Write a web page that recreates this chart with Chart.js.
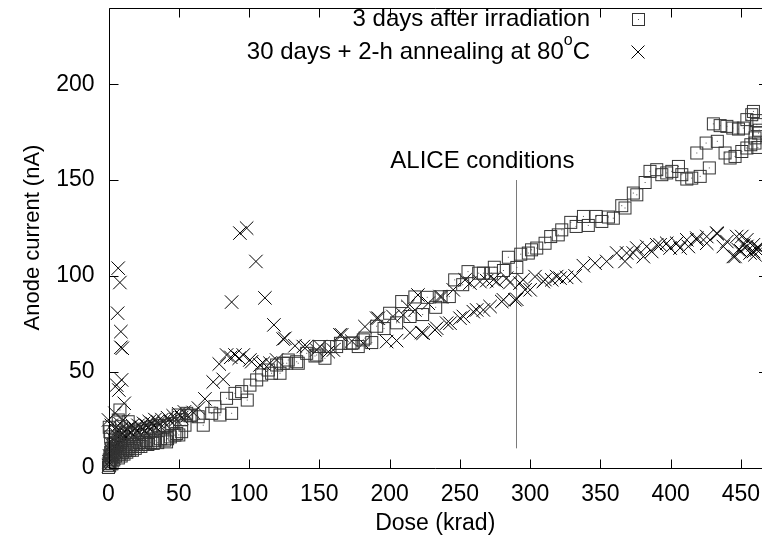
<!DOCTYPE html>
<html>
<head>
<meta charset="utf-8">
<script src="https://cdn.jsdelivr.net/npm/chart.js@4.4.1/dist/chart.umd.min.js"></script>
<style>
  html, body { margin: 0; padding: 0; background: #fff; }
  canvas { display: block; }
</style>
</head>
<body>
<canvas id="anodeChart" width="762" height="540"></canvas>
<script>
// [dose (krad), anode current (nA)]
const afterIrradiation = [
  [0,0],[0.3,2],[0.5,4],[0.8,1],[1,6],[1.2,3],[1.5,8],[2,5],[2.2,10],[2.5,2],[3,7],[3.3,12],
  [3.7,4],[4,9],[4.5,14],[5,6],[5.5,11],[6,8],[6.5,13],[7,5],[7.5,10],[8,7],[8.5,12],[9,6],
  [9.5,14],[10,8],
  [0.5,21],[1,18.7],[1.5,16],[6.9,24.8],[8.1,30],[9.3,21.3],[14,23.9],
  [11,7],[12,9],[13,8],[14,10],[15,9],[16,11],[17,9],[18,12],[19,10],[20,12],[21,11],[22,13],
  [23,11],[24,12],[25,13],[26,12],[27,14],[28,12],[30,13],[31.8,12.6],[33,14],[35,13],[37,15],
  [40,14.3],[42,15],[44,16],[47.2,16.9],[50,17],[52,18.7],
  [12,18],[15,17],[18,19],[21,18],[24,20],[27,19],[30,21],[33,20],[36,22],[39,21],[42,22],
  [45,23],[49.6,27.4],[52,25],[55.6,28.3],[58,27],
  [41.3,13.4],[48.5,17.8],[54.4,22.1],[59.1,27.4],[63.8,26.5],[67.4,22.1],[73.4,28.3],[75.7,31.7],
  [79.3,27.4],[84,36.1],[87.6,28.3],[90,38.7],[94.7,39.6],[98.7,35.2],[100.6,43],[105.4,45.7],
  [109,48.3],[113.7,50.9],[116,49.2],[119.6,53.5],[122,49.2],[124.3,54.4],[126.8,54.4],[127.9,56.1],
  [133.9,55.2],[135,54.4],[141,59.6],[146.9,58.2],[148.1,58.7],[150,63.1],[154,57],[157.6,63.1],
  [162.3,63.1],[165,64.8],[171.8,64.8],[174,65],[177.7,63.1],[181.3,66.6],[182.5,67.5],[187.3,65.2],
  [190.8,73.7],[196,72.5],[200,80.5],[205,75.5],[208.6,86.6],[214.5,78.8],[218,89],[223.5,79.8],
  [226.8,88.8],[232.8,83.6],[236.6,89.1],[242.5,89.2],[246.3,97.9],[252,95.4],[255.8,102.2],
  [263.4,101.4],[266.7,101.4],[272.4,101.4],[274.5,104.5],[281,102.8],[284.5,109.7],[290.5,104.4],
  [293.3,111.3],[298.7,111.9],[301,113.6],[304.7,114.5],[310.6,117],[314.6,120.5],[320,121.4],
  [322.5,124],[328.9,127.9],[332.7,125.8],[337.9,131],[341.4,126.3],[346.9,131],[351,128.4],
  [355.7,130.7],[359.2,130.1],[365.2,136.6],[367.5,135.4],[373.4,143.2],[375.9,142.3],[381.8,148.7],
  [385.3,154.5],[390.1,155.4],[393.7,152.8],[397.2,153.7],[400.8,154.5],[405.5,157.1],[407.9,152.8],
  [411.5,150.5],[415,151],[421,151.9],[427.5,156.3],[418.6,164.1],[425.2,169.3],[433.2,170.2],
  [438.7,164.1],[442.3,161.5],[445.8,162.3],[450.6,164.9],[454.2,166.7],[457,168.4],[460,169.3],
  [430.4,179.3],[435.2,178.4],[440,178],[444.2,177.1],[448.2,176.6],[451.7,177.1],[454.2,181.5],
  [457.7,184.1],[458.9,185.8],[461.3,178.9],[462.5,174.5],[460,172],[462,167],[463,176],[461,181]
];

const afterAnnealing = [
  [0,1],[0.4,3],[0.8,6],[1.2,2],[1.6,9],[2,4],[2.4,12],[2.8,7],[3.2,15],[3.6,5],[4,10],[4.4,18],
  [4.8,8],[5.2,13],[5.6,21],[6,11],[6.4,16],[6.8,9],[7.2,19],[7.6,14],[8,23],[8.4,12],[8.8,17],
  [9.2,20],[9.6,15],[10,18],
  [6.9,104],[8.1,96.5],[6.5,80.5],[8.8,70.9],[8.8,62.7],[9.8,62.2],[9.3,45.7],[5.8,43],[7.4,40.4],
  [11.2,33.5],[10.5,24.8],[4.6,28.3],[0,24.8],[2,22],
  [12,16],[13,20],[14,17],[15,21],[16,18],[17,22],[18,17],[19,20],[20,19],[21,22],[22,18],[23,21],
  [24,20],[25,23],[26,19],[27,22],[28,21],[29,24],[30,20],[31,23],[32,22],[33,25],[34,21],[35,24],
  [36,22],[38,25],[40,23],[42,26],[44,24],[46,27],[48,25],[50,28],[52,26],[54,29],[56,27],
  [60.3,28.7],[64,31],
  [68.6,35.8],[74.5,44.6],[81.6,46],[78.8,54],[84,58.7],[87,57.5],[90,58.7],[93,57],[95.9,58.7],
  [100.6,56.1],[101.9,55.2],[107.8,53.5],[110.1,54.4],[114.9,54.4],[119.6,56.1],
  [87.6,86.3],[93.5,122.3],[98.3,124.9],[104.9,107.5],[111.3,88.5],[117.7,74.4],[124.3,67],
  [125.5,67.4],[132.7,63.5],[138.6,63.1],[141,63.1],[148.1,61.3],[150.5,63.1],[156.4,60.4],[160,61.3],
  [164.7,69.2],[165.9,69.2],[173,66],[181.3,64.8],[182.5,73.5],[190.8,77.9],[192,77.9],[197.9,65.7],
  [202.4,78.8],[205,66.2],[209.7,79.6],[213,84],[214.5,70.3],[218,82.2],[220.2,90],[222.8,70.4],
  [224,70.1],[227.5,85.7],[232.3,71.8],[233.5,72.7],[235.9,89.2],[237,89],[240.6,75.3],[243,75.3],
  [245.3,92.7],[250.1,77.9],[252.5,78.8],[253.7,97.9],[257.2,96.2],[259.6,81.3],[262,82.2],[264.3,97],
  [266.7,82.2],[269.1,97.5],[271.5,84],[273.8,98],[276.2,97],[279.8,86.6],[281,87.5],[283.3,98.8],
  [285.7,96.5],[289.2,87.5],[290.5,87.8],[292.8,96.2],[295,98],[296.4,92.7],[300,92.7],[303.5,99.6],
  [309.4,97],[310.6,98],[315.4,97.9],[318.9,99.6],[321.3,98.8],[326,99.2],[332,100],[337.9,105.3],
  [346.2,106.6],[354.5,107.5],[361.6,111.9],[367.5,107.5],[368.7,111.9],[373.4,111.9],[375.9,114.5],
  [380.6,110],[383,115.3],[386.5,112.7],[390.1,116.2],[392.5,116.2],[397.2,117],[399.6,114.5],
  [404.3,117],[406.7,114.5],[411.5,118.8],[412.6,115.3],[418.6,118.8],[418.6,119.7],[425.7,120.5],
  [425.7,117],[432.8,122.3],[433.2,121.9],[437.5,115.3],[440,117.9],[444.6,110.1],[445.8,110.1],
  [447,120.5],[448.2,113.6],[450,113],[450.6,120.5],[452,116],[454.2,118.8],[454.2,115.3],
  [456.5,111.9],[458.9,116.2],[458.9,112.7],[460,111],[461.3,113.6],[462,115],[462.4,114.5]
];

const doseTicks = [0, 50, 100, 150, 200, 250, 300, 350, 400, 450];
const currentTicks = [0, 50, 100, 150, 200];
const seriesLabels = ['3 days after irradiation', '30 days + 2-h annealing at 80'];
const aliceDose = 290;
const aliceRange = [10, 150];

const font = '"Liberation Sans", Arial, sans-serif';

const toPoints = arr => arr.map(p => ({ x: p[0], y: p[1] }));

// gnuplot box marker: open square with a dot in the middle
const boxMarker = document.createElement('canvas');
boxMarker.width = 15;
boxMarker.height = 15;
(() => {
  const c = boxMarker.getContext('2d');
  c.strokeStyle = '#333';
  c.lineWidth = 1;
  c.strokeRect(1.5, 1.5, 12, 12);
  c.fillStyle = '#555';
  c.fillRect(7, 7, 1, 1);
})();

const noPadding = s => { s.paddingLeft = 0; s.paddingRight = 0; s.paddingTop = 0; s.paddingBottom = 0; };

// gnuplot style frame: inward ticks, ALICE marker line and the key
const gnuFrame = {
  id: 'gnuFrame',
  beforeDatasetsDraw(chart) {
    const { ctx, scales: { x, y } } = chart;
    const px = Math.round(x.getPixelForValue(aliceDose)) + 0.5;
    ctx.save();
    ctx.strokeStyle = '#7a7a7a';
    ctx.lineWidth = 1;
    ctx.beginPath();
    ctx.moveTo(px, y.getPixelForValue(aliceRange[0]));
    ctx.lineTo(px, y.getPixelForValue(aliceRange[1]));
    ctx.stroke();
    ctx.fillStyle = '#000';
    ctx.font = '24px ' + font;
    ctx.textAlign = 'center';
    ctx.textBaseline = 'middle';
    ctx.fillText('ALICE conditions', x.getPixelForValue(266), y.getPixelForValue(159.5));
    ctx.restore();
  },
  afterDatasetsDraw(chart) {
    const { ctx, chartArea: a, scales: { x, y } } = chart;
    const L = Math.round(a.left) + 0.5, R = a.right, T = Math.round(a.top) + 0.5, B = Math.round(a.bottom) + 0.5;
    ctx.save();
    ctx.strokeStyle = '#000';
    ctx.lineWidth = 1;
    ctx.beginPath();
    ctx.moveTo(L, T); ctx.lineTo(L, B); ctx.lineTo(R, B);
    ctx.moveTo(L, T); ctx.lineTo(R, T);
    doseTicks.forEach(v => {
      const px = Math.round(x.getPixelForValue(v)) + 0.5;
      ctx.moveTo(px, B); ctx.lineTo(px, B - 9);
      ctx.moveTo(px, T); ctx.lineTo(px, T + 9);
    });
    currentTicks.forEach(v => {
      const py = Math.round(y.getPixelForValue(v)) + 0.5;
      ctx.moveTo(L, py); ctx.lineTo(L + 9, py);
      ctx.moveTo(R, py); ctx.lineTo(R - 3, py);
    });
    ctx.stroke();

    // key
    ctx.fillStyle = '#000';
    ctx.font = '24px ' + font;
    ctx.textBaseline = 'middle';
    ctx.textAlign = 'right';
    const textRight = 590, symX = 638;
    ctx.fillText(seriesLabels[0], textRight, 19);
    const cW = ctx.measureText('C').width;
    ctx.fillText('C', textRight, 52);
    ctx.font = '16px ' + font;
    const oW = ctx.measureText('o').width;
    ctx.fillText('o', textRight - cW, 41);
    ctx.font = '24px ' + font;
    ctx.fillText(seriesLabels[1], textRight - cW - oW, 52);

    ctx.drawImage(boxMarker, symX - 7, 19 - 7);
    ctx.strokeStyle = '#000';
    ctx.beginPath();
    ctx.moveTo(symX - 6.5, 52 - 6.5); ctx.lineTo(symX + 6.5, 52 + 6.5);
    ctx.moveTo(symX + 6.5, 52 - 6.5); ctx.lineTo(symX - 6.5, 52 + 6.5);
    ctx.stroke();
    ctx.restore();
  }
};

new Chart(document.getElementById('anodeChart'), {
  type: 'scatter',
  data: {
    datasets: [{
      label: seriesLabels[0],
      data: toPoints(afterIrradiation),
      pointStyle: boxMarker,
      pointRadius: 7,
      pointBorderWidth: 1,
      borderColor: '#333',
      backgroundColor: 'rgba(0,0,0,0)'
    }, {
      label: seriesLabels[1] + '°C',
      data: toPoints(afterAnnealing),
      pointStyle: 'crossRot',
      pointRadius: 9.5,
      pointBorderWidth: 1,
      borderColor: '#000',
      backgroundColor: '#000'
    }]
  },
  options: {
    responsive: false,
    animation: false,
    devicePixelRatio: 1,
    clip: false,
    events: [],
    layout: { autoPadding: false, padding: { top: 7.5, right: 0, left: 0, bottom: 0 } },
    plugins: { legend: { display: false }, tooltip: { enabled: false } },
    scales: {
      x: {
        type: 'linear',
        min: 0,
        max: 465,
        grid: { display: false, drawTicks: false },
        border: { display: false },
        afterBuildTicks: s => { s.ticks = doseTicks.map(v => ({ value: v })); },
        afterFit: s => { s.height = 72.5; noPadding(s); },
        ticks: { padding: 13, color: '#000', font: { family: font, size: 23 } },
        title: { display: true, text: 'Dose (krad)', color: '#000', font: { family: font, size: 23 }, padding: { top: 0, bottom: 3 } }
      },
      y: {
        type: 'linear',
        min: 0,
        max: 240,
        grid: { display: false, drawTicks: false },
        border: { display: false },
        afterBuildTicks: s => { s.ticks = currentTicks.map(v => ({ value: v })); },
        afterFit: s => { s.width = 108.5; noPadding(s); },
        ticks: { padding: 14, color: '#000', font: { family: font, size: 23 } },
        title: { display: true, text: 'Anode current (nA)', color: '#000', font: { family: font, size: 22 }, padding: { top: 20, bottom: 0 } }
      }
    }
  },
  plugins: [gnuFrame]
});
</script>
</body>
</html>
